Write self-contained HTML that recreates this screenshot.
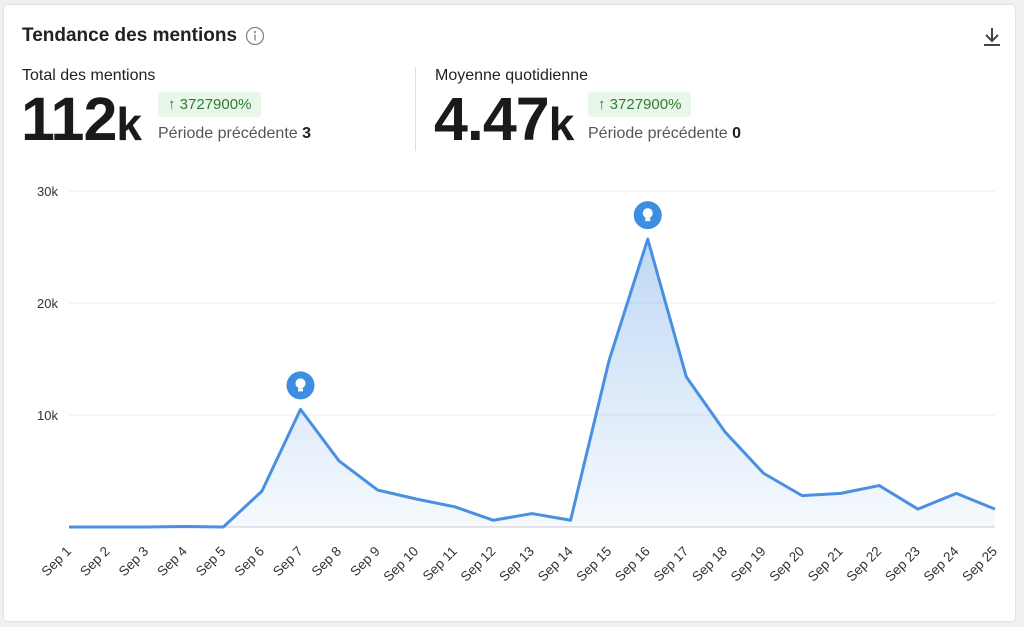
<!DOCTYPE html>
<html><head><meta charset="utf-8"><style>
body{margin:0;width:1024px;height:627px;background:#f0f0f0;font-family:"Liberation Sans",sans-serif;overflow:hidden;position:relative}
.card{position:absolute;left:4px;top:5px;width:1011px;height:616px;background:#fff;border-radius:4px;box-shadow:0 0 2px rgba(0,0,0,.15)}
.abs{position:absolute;white-space:nowrap}
.badge{background:#e8f7ea;color:#2e7d32;font-size:15px;padding:4px 10px;border-radius:3px}
</style></head><body>
<div class="card"></div>
<div class="abs" style="left:22px;top:25px;font-size:19px;font-weight:bold;color:#222">Tendance des mentions</div>
<svg class="abs" style="left:245px;top:26px" width="20" height="20"><circle cx="10" cy="10" r="8.5" fill="none" stroke="#888" stroke-width="1.3"/><circle cx="10" cy="6" r="1.1" fill="#888"/><rect x="9.3" y="8.5" width="1.4" height="6" fill="#888"/></svg>
<svg class="abs" style="left:981px;top:25px" width="22" height="22"><path d="M11 3v12M5 10l6 6 6-6M3 20h16" stroke="#444" stroke-width="2" fill="none"/></svg>
<div class="abs" style="left:22px;top:67px;font-size:16px;color:#222">Total des mentions</div>
<div class="abs" style="left:21px;top:84px;font-size:61px;font-weight:bold;color:#1a1a1a;letter-spacing:-1px">112<span style="font-size:46px">k</span></div>
<div class="abs badge" style="left:158px;top:92px">↑ 3727900%</div>
<div class="abs" style="left:158px;top:125px;font-size:16px;color:#555">Période précédente <b style="color:#222">3</b></div>
<div class="abs" style="left:415px;top:67px;width:1px;height:84px;background:#ddd"></div>
<div class="abs" style="left:435px;top:67px;font-size:16px;color:#222">Moyenne quotidienne</div>
<div class="abs" style="left:434px;top:84px;font-size:61px;font-weight:bold;color:#1a1a1a;letter-spacing:-1px">4.47<span style="font-size:46px">k</span></div>
<div class="abs badge" style="left:588px;top:92px">↑ 3727900%</div>
<div class="abs" style="left:588px;top:125px;font-size:16px;color:#555">Période précédente <b style="color:#222">0</b></div>
<svg id="chart" class="abs" style="left:0;top:0" width="1024" height="627">
<defs><linearGradient id="g" x1="0" y1="0" x2="0" y2="1"><stop offset="0" stop-color="#4a90e2" stop-opacity="0.35"/><stop offset="1" stop-color="#4a90e2" stop-opacity="0.05"/></linearGradient></defs>
</svg>
<script>
const categories=["Sep 1","Sep 2","Sep 3","Sep 4","Sep 5","Sep 6","Sep 7","Sep 8","Sep 9","Sep 10","Sep 11","Sep 12","Sep 13","Sep 14","Sep 15","Sep 16","Sep 17","Sep 18","Sep 19","Sep 20","Sep 21","Sep 22","Sep 23","Sep 24","Sep 25"];
const mentions=[0,0,0,50,0,3200,10500,5900,3300,2500,1800,600,1200,600,14900,25700,13400,8500,4800,2800,3000,3700,1600,3000,1600];
const yTicks=[10000,20000,30000];
const yTickLabels=["10k","20k","30k"];
const insightDays=[6,15];
const NS="http://www.w3.org/2000/svg",svg=document.getElementById('chart');
const x=i=>69+i*(995-69)/(categories.length-1);
const y=v=>527-v*(112/10000);
function mk(t,a){const e=document.createElementNS(NS,t);for(const k in a)e.setAttribute(k,a[k]);svg.appendChild(e);return e;}
yTicks.forEach((t,i)=>{
 const l=mk('line',{x1:69,x2:995,y1:y(t),y2:y(t),stroke:'#ececec'});
 
 
 const tx=mk('text',{x:58,y:y(t)+5,'text-anchor':'end','font-size':13,fill:'#333'});tx.textContent=yTickLabels[i];
 
 
});
const base=mk('line',{x1:69,x2:995,y1:527,y2:527,stroke:'#ccc'});


let pts=mentions.map((v,i)=>x(i)+','+y(v)).join(' ');
const area=mk('polygon',{points:x(0)+',527 '+pts+' '+x(mentions.length-1)+',527',fill:'url(#g)'});


const line=mk('polyline',{points:pts,fill:'none',stroke:'#4a90e2','stroke-width':3,'stroke-linejoin':'round'});


categories.forEach((c,i)=>{
 const lx=x(i)+3,ly=552;
 const t=mk('text',{x:lx,y:ly,'text-anchor':'end','font-size':13.5,fill:'#333',transform:`rotate(-45 ${lx} ${ly})`});t.textContent=c;
 
 
});
insightDays.forEach(i=>{
 const cx=x(i),cy=y(mentions[i])-24;
 const g=mk('g',{});
 
 
 const c=document.createElementNS(NS,'circle');c.setAttribute('cx',cx);c.setAttribute('cy',cy);c.setAttribute('r',14);c.setAttribute('fill','#3d8ee0');g.appendChild(c);
 const b=document.createElementNS(NS,'circle');b.setAttribute('cx',cx);b.setAttribute('cy',cy-2);b.setAttribute('r',5);b.setAttribute('fill','#fff');g.appendChild(b);
 const r=document.createElementNS(NS,'rect');r.setAttribute('x',cx-2.5);r.setAttribute('y',cy+3);r.setAttribute('width',5);r.setAttribute('height',3);r.setAttribute('fill','#fff');g.appendChild(r);
});
</script>
</body></html>
